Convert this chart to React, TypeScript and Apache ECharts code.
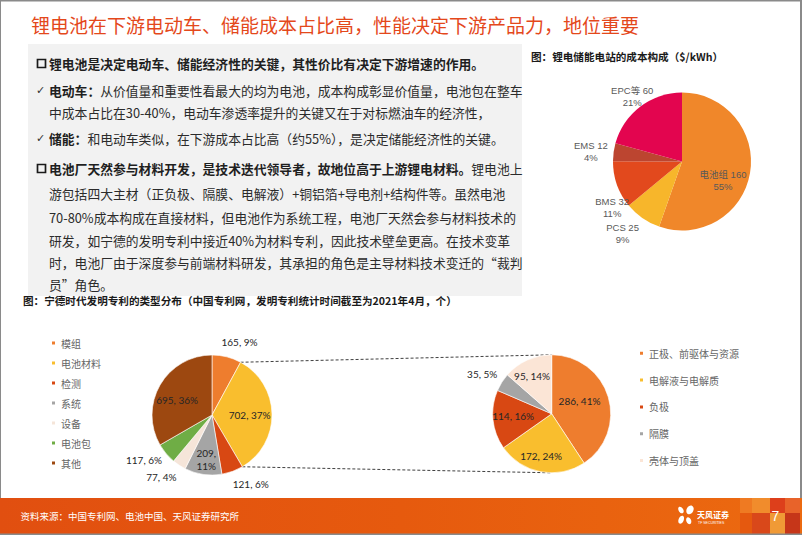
import React, { useEffect, useRef } from "react";
import * as echarts from "echarts";

// ---------- data ----------
const storageCats = ["电池组", "PCS", "BMS", "EMS", "EPC等"];
const storageVals = [160, 25, 32, 12, 60];
const storagePct = ["55%", "9%", "11%", "4%", "21%"];

const patentCats = ["模组", "电池材料", "检测", "系统", "设备", "电池包", "其他"];
const patentVals = [165, 702, 121, 209, 77, 117, 695];
const patentPct = ["9%", "37%", "6%", "11%", "4%", "6%", "36%"];

const materialCats = ["正极、前驱体与资源", "电解液与电解质", "负极", "隔膜", "壳体与顶盖"];
const materialVals = [286, 172, 114, 35, 95];
const materialPct = ["41%", "24%", "16%", "5%", "14%"];

const TITLE = "锂电池在下游电动车、储能成本占比高，性能决定下游产品力，地位重要";
const CAPTION_LEFT = "图：宁德时代发明专利的类型分布（中国专利网，发明专利统计时间截至为2021年4月，个）";
const CAPTION_RIGHT = "图：锂电储能电站的成本构成（$/kWh）";
const SOURCE = "资料来源：中国专利网、电池中国、天风证券研究所";
const BODY_LINES = [
  "{b|锂电池是决定电动车、储能经济性的关键，其性价比有决定下游增速的作用。}",
  "{b|电动车：}{n|从价值量和重要性看最大的均为电池，成本构成彰显价值量，电池包在整车}",
  "{n|中成本占比在30-40%，电动车渗透率提升的关键又在于对标燃油车的经济性，}",
  "{b|储能：}{n|和电动车类似，在下游成本占比高（约55%），是决定储能经济性的关键。}",
  "{b|电池厂天然参与材料开发，是技术迭代领导者，故地位高于上游锂电材料。}{n|锂电池上}",
  "{n|游包括四大主材（正负极、隔膜、电解液）+铜铝箔+导电剂+结构件等。虽然电池}",
  "{n|70-80%成本构成在直接材料，但电池作为系统工程，电池厂天然会参与材料技术的}",
  "{n|研发，如宁德的发明专利中接近40%为材料专利，因此技术壁垒更高。在技术变革}",
  "{n|时，电池厂由于深度参与前端材料研发，其承担的角色是主导材料技术变迁的“裁判}",
  "{n|员”角色。}",
];

// ---------- styling / layout ----------
const FONT = '"Noto Sans CJK SC", "Microsoft YaHei", sans-serif';
const NUMFONT = 'Lato, "Noto Sans CJK SC", sans-serif';

const storageColors = ["#F0872A", "#F7B62B", "#E2491D", "#BC4530", "#E3054F"];
const patentColors = ["#EE7D2E", "#F9BE2E", "#D84813", "#A5A5A5", "#F5E5D9", "#6FAD45", "#9D4810"];
const materialColors = ["#EE7D2E", "#F9BE2E", "#D84813", "#A5A5A5", "#FBE5D6"];

const PIE_STORAGE = { cx: 682, cy: 161.5, r: 69 };
const PIE_PATENT = { cx: 212, cy: 415, r: 60 };
const PIE_MATERIAL = { cx: 551.7, cy: 413.8, r: 59 };

const storageNudge = [[4, 13], [-38, 41], [-34.5, 33], [-54, -4.5], [-27, -35]];
const patentNudge = [[19.4, -40.9], [4.7, 0.5], [27.5, 37.5], [-0.8, 12.3], [-32.6, 33.9], [-42.7, 24], [-6.3, 1.7]];
const patentWrap = [false, false, false, true, false, false, false];
const materialNudge = [[-3.3, -3.6], [-4.5, 9.9], [-6.2, -0.8], [-42, -22], [-6.2, -8.6]];

const BODY_Y = [63.3, 90, 112, 138.7, 168.7, 193.8, 217.2, 240.5, 262.8, 284.7];

function pieSeries(
  cats: string[], vals: number[], colors: string[], p: { cx: number; cy: number; r: number },
  fmt: (i: number) => string, nudge: number[][], labelStyle: any, borderW: number
) {
  return {
    type: "pie",
    center: [p.cx, p.cy],
    radius: p.r,
    startAngle: 90,
    clockwise: true,
    silent: true,
    avoidLabelOverlap: false,
    data: cats.map((c, i) => ({ name: c, value: vals[i], itemStyle: { color: colors[i] } })),
    itemStyle: { borderColor: "#fff", borderWidth: borderW },
    label: {
      show: true,
      position: "inside",
      formatter: (q: any) => fmt(q.dataIndex),
      ...labelStyle,
    },
    labelLine: { show: false },
    labelLayout: (q: any) => ({
      dx: nudge[q.dataIndex][0],
      dy: nudge[q.dataIndex][1],
      align: "center",
      verticalAlign: "middle",
    }),
    emphasis: { disabled: true },
  };
}

function polar(p: { cx: number; cy: number; r: number }, deg: number) {
  const a = (deg * Math.PI) / 180;
  return [p.cx + p.r * Math.sin(a), p.cy - p.r * Math.cos(a)];
}

function buildOption() {
  const total = patentVals.reduce((a, b) => a + b, 0);
  const ang1 = (patentVals[0] / total) * 360;
  const ang2 = ((patentVals[0] + patentVals[1]) / total) * 360;
  const L1 = polar(PIE_PATENT, ang1);
  const L2 = polar(PIE_PATENT, ang2);
  const R1 = [PIE_MATERIAL.cx, PIE_MATERIAL.cy - PIE_MATERIAL.r];
  const R2 = [PIE_MATERIAL.cx, PIE_MATERIAL.cy + PIE_MATERIAL.r];

  const bodyRich = {
    b: { fontSize: 12.8, fontFamily: FONT, fontWeight: "bold", fill: "#1f1f1f" },
    n: { fontSize: 12.8, fontFamily: FONT, fontWeight: "normal", fill: "#2b2b2b" },
  };

  const graphic: any[] = [
    // frame
    { type: "rect", shape: { x: 0, y: 0, width: 802, height: 1.5 }, style: { fill: "#8a8a8a" } },
    { type: "rect", shape: { x: 0, y: 0, width: 1, height: 535 }, style: { fill: "#8a8a8a" } },
    { type: "rect", shape: { x: 800, y: 0, width: 2, height: 535 }, style: { fill: "#8a8a8a" } },
    // title
    {
      type: "text", x: 31, y: 24,
      style: { text: TITLE, fill: "#E4481B", fontSize: 19, fontFamily: FONT, verticalAlign: "middle" },
    },
    // text box
    { type: "rect", shape: { x: 28, y: 44, width: 494, height: 252 }, style: { fill: "#F2F2F2" } },
    { type: "rect", shape: { x: 37.5, y: 59.5, width: 8, height: 8 }, style: { fill: "none", stroke: "#1a1a1a", lineWidth: 1.7 } },
    { type: "rect", shape: { x: 37.5, y: 164.5, width: 8, height: 8 }, style: { fill: "none", stroke: "#1a1a1a", lineWidth: 1.7 } },
    { type: "text", x: 36, y: 90, style: { text: "✓", fill: "#333", fontSize: 11, fontFamily: "DejaVu Sans", verticalAlign: "middle" } },
    { type: "text", x: 36, y: 138.7, style: { text: "✓", fill: "#333", fontSize: 11, fontFamily: "DejaVu Sans", verticalAlign: "middle" } },
    ...BODY_LINES.map((t, i) => ({
      type: "text", x: 49, y: BODY_Y[i],
      style: { text: t, rich: bodyRich, fontSize: 12.8, fontFamily: FONT, fill: "#2b2b2b", verticalAlign: "middle" },
    })),
    // captions
    {
      type: "text", x: 23, y: 300.5,
      style: { text: CAPTION_LEFT, fill: "#1a1a1a", fontSize: 10.6, fontWeight: "bold", fontFamily: FONT, verticalAlign: "middle" },
    },
    {
      type: "text", x: 531, y: 56,
      style: { text: CAPTION_RIGHT, fill: "#1a1a1a", fontSize: 10.6, fontWeight: "bold", fontFamily: FONT, verticalAlign: "middle" },
    },
    // connector lines
    { type: "line", shape: { x1: L1[0], y1: L1[1], x2: R1[0], y2: R1[1] }, style: { stroke: "#404040", lineWidth: 1, lineDash: [3, 2] } },
    { type: "line", shape: { x1: L2[0], y1: L2[1], x2: R2[0], y2: R2[1] }, style: { stroke: "#404040", lineWidth: 1, lineDash: [3, 2] } },
    // footer
    {
      type: "rect", shape: { x: 0, y: 498, width: 802, height: 36 },
      style: {
        fill: new echarts.graphic.LinearGradient(0, 0, 1, 0, [
          { offset: 0, color: "#E14F10" },
          { offset: 0.5, color: "#E65A0E" },
          { offset: 1, color: "#EC6A10" },
        ]),
      },
    },
    { type: "rect", shape: { x: 740, y: 498, width: 12, height: 15 }, style: { fill: "#EF7A22" } },
    { type: "rect", shape: { x: 752, y: 498, width: 18, height: 15 }, style: { fill: "#F18C2C" } },
    { type: "rect", shape: { x: 770, y: 498, width: 15, height: 15 }, style: { fill: "#DD3F1B" } },
    { type: "rect", shape: { x: 785, y: 498, width: 15, height: 15 }, style: { fill: "#E8632A" } },
    { type: "rect", shape: { x: 740, y: 513, width: 12, height: 21 }, style: { fill: "#E5590F" } },
    { type: "rect", shape: { x: 752, y: 513, width: 18, height: 21 }, style: { fill: "#D9481A" } },
    { type: "rect", shape: { x: 770, y: 513, width: 15, height: 21 }, style: { fill: "#F09A36" } },
    { type: "rect", shape: { x: 785, y: 513, width: 15, height: 21 }, style: { fill: "#C63619" } },
    { type: "rect", shape: { x: 0, y: 533.5, width: 802, height: 1.5 }, style: { fill: "#8a8a8a" } },
    {
      type: "text", x: 20.5, y: 515.5,
      style: { text: SOURCE, fill: "#ffffff", fontSize: 9.5, fontFamily: FONT, verticalAlign: "middle" },
    },
    {
      type: "text", x: 775.5, y: 516,
      style: { text: "7", fill: "#ffffff", fontSize: 14, fontFamily: "Liberation Sans", align: "center", verticalAlign: "middle" },
    },
    // logo
    { type: "ellipse", shape: { cx: 681, cy: 510.5, rx: 2.3, ry: 3.6 }, rotation: 0.6, originX: 681, originY: 510.5, style: { fill: "#fff" } },
    { type: "ellipse", shape: { cx: 689.5, cy: 510, rx: 3.4, ry: 4.6 }, rotation: -0.5, originX: 689.5, originY: 510, style: { fill: "#fff" } },
    { type: "ellipse", shape: { cx: 681, cy: 520, rx: 2.6, ry: 4.2 }, rotation: -0.4, originX: 681, originY: 520, style: { fill: "#fff" } },
    { type: "ellipse", shape: { cx: 689, cy: 520.5, rx: 2.4, ry: 3.6 }, rotation: 0.4, originX: 689, originY: 520.5, style: { fill: "#fff" } },
    {
      type: "text", x: 697, y: 514.5,
      style: { text: "天风证券", fill: "#ffffff", fontSize: 8, fontWeight: "bold", fontFamily: FONT, verticalAlign: "middle" },
    },
    {
      type: "text", x: 698, y: 523,
      style: { text: "TF SECURITIES", fill: "#ffffff", fontSize: 3.5, fontFamily: "Liberation Sans", verticalAlign: "middle" },
    },
  ];

  const numLabel = { fontSize: 10, fontFamily: NUMFONT, color: "#262626", lineHeight: 13 };

  return {
    animation: false,
    backgroundColor: "#ffffff",
    legend: [
      {
        data: patentCats, orient: "vertical", left: 50, top: 337, padding: 0,
        itemWidth: 5, itemHeight: 5, itemGap: 8, icon: "rect", selectedMode: false,
        textStyle: { fontSize: 10, color: "#666666", fontFamily: FONT, lineHeight: 12 },
      },
      {
        data: materialCats, orient: "vertical", left: 638, top: 347.3, padding: 0,
        itemWidth: 5, itemHeight: 5, itemGap: 14.8, icon: "rect", selectedMode: false,
        textStyle: { fontSize: 10, color: "#666666", fontFamily: FONT, lineHeight: 12 },
      },
    ],
    graphic,
    series: [
      pieSeries(
        storageCats, storageVals, storageColors, PIE_STORAGE,
        (i) => `${storageCats[i]} ${storageVals[i]}\n${storagePct[i]}`,
        storageNudge,
        { fontSize: 9.5, fontFamily: '"Liberation Sans", "Noto Sans CJK SC", sans-serif', color: "#595959", lineHeight: 12 },
        0
      ),
      pieSeries(
        patentCats, patentVals, patentColors, PIE_PATENT,
        (i) => `${patentVals[i]},${patentWrap[i] ? "\n" : " "}${patentPct[i]}`,
        patentNudge, numLabel, 0.6
      ),
      pieSeries(
        materialCats, materialVals, materialColors, PIE_MATERIAL,
        (i) => `${materialVals[i]}, ${materialPct[i]}`,
        materialNudge, numLabel, 0.6
      ),
    ],
  };
}

export default function App() {
  const ref = useRef<HTMLDivElement>(null);
  useEffect(() => {
    document.body.style.margin = "0";
    const chart = echarts.init(ref.current as HTMLDivElement, null, { renderer: "svg", width: 802, height: 535 });
    chart.setOption(buildOption() as any);
    return () => chart.dispose();
  }, []);
  return <div ref={ref} style={{ width: 802, height: 535, background: "#fff" }} />;
}
